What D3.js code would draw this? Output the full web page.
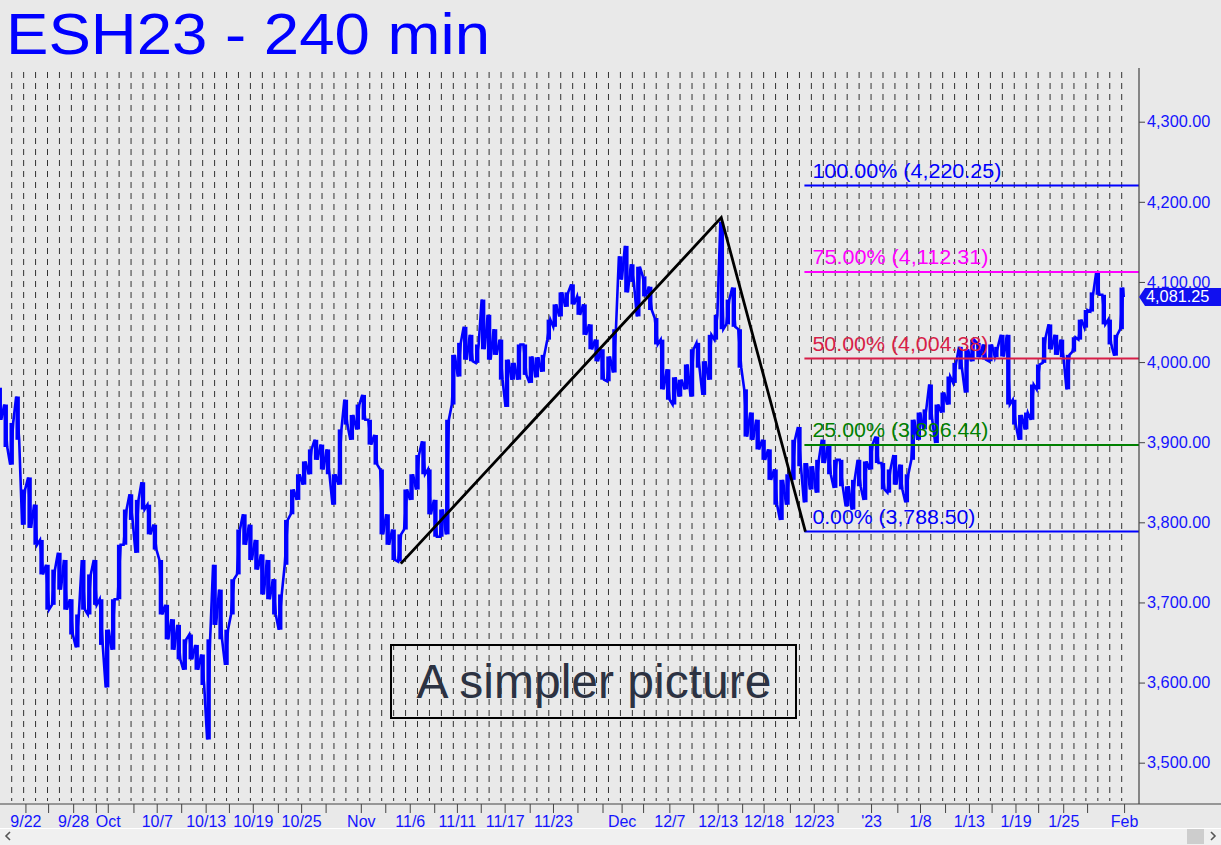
<!DOCTYPE html>
<html>
<head>
<meta charset="utf-8">
<script src="https://cdn.jsdelivr.net/npm/d3@7"></script>
<style>
  body { margin: 0; background: #e9e9e9; }
  svg { display: block; font-family: Arial, "Liberation Sans", sans-serif; }
</style>
</head>
<body>
<script>
// price axis ticks
const priceTicks = [3500, 3600, 3700, 3800, 3900, 4000, 4100, 4200, 4300];

// date axis: one trading day per gridline
const dateLabels = ["9/22", "9/28", "Oct", "10/7", "10/13", "10/19", "10/25", "Nov", "11/6", "11/11", "11/17", "11/23",
                    "Dec", "12/7", "12/13", "12/18", "12/23", "'23", "1/8", "1/13", "1/19", "1/25", "Feb"];
const dateLabelDays = [1.15, 5.15, 8.05, 12.15, 16.25, 20.2, 24.25, 29.25, 33.35, 37.3, 41.3, 45.35,
                       51.1, 55.1, 59.15, 63, 67.2, 72, 76.1, 80.2, 84.1, 88.1, 93.2];
const dateMinorDays = [3.05, 7.05, 10.2, 14.2, 18.2, 22.3, 26.3, 31.3, 35.4, 39.3, 43.4, 47.4, 49.5,
                       52.9, 57.1, 61.2, 65.2, 69.2, 74.2, 78.2, 82.1, 86, 90.1];
const dayCount = 94;

// 240 min bars, sampled every half day starting at day -1
const barHigh = [
  3968, 3947, 3924, 3957, 3841, 3856, 3822, 3778, 3747, 3741, 3762, 3753, 3704, 3685, 3753, 3735, 3753, 3704, 3666, 3704,
  3772, 3816, 3835, 3828, 3850, 3822, 3797, 3753, 3697, 3679, 3672, 3654, 3660, 3647, 3635, 3654, 3747, 3716, 3666, 3729,
  3791, 3810, 3797, 3778, 3760, 3753, 3729, 3710, 3803, 3841, 3860, 3876, 3891, 3903, 3897, 3891, 3860, 3916, 3953, 3934,
  3947, 3959, 3928, 3909, 3866, 3810, 3791, 3785, 3841, 3860, 3884, 3901, 3866, 3828, 3816, 3928, 4009, 4024, 4044, 4034,
  4022, 4078, 4059, 4041, 4028, 4003, 3999, 4022, 4022, 4007, 4006, 4009, 4053, 4072, 4087, 4087, 4097, 4082, 4072, 4047,
  4028, 4016, 4007, 4041, 4132, 4145, 4122, 4119, 4107, 4094, 4055, 4028, 3991, 3981, 3978, 3997, 4016, 4024, 4001, 4034,
  4059, 4175, 4078, 4093, 4041, 3966, 3937, 3928, 3903, 3891, 3866, 3853, 3860, 3903, 3919, 3874, 3870, 3878, 3903, 3897,
  3878, 3878, 3845, 3853, 3878, 3876, 3897, 3907, 3874, 3866, 3884, 3872, 3860, 3928, 3937, 3941, 3972, 3947, 3962, 3982,
  3999, 4019, 4016, 4028, 4024, 4022, 4022, 4019, 4034, 4034, 3953, 3934, 3937, 3972, 3997, 4031, 4047, 4034, 4028, 4009,
  4031, 4053, 4065, 4087, 4113, 4084, 4053, 4034, 4093
];
const barLow = [
  3928, 3894, 3872, 3903, 3797, 3793, 3772, 3735, 3691, 3697, 3716, 3691, 3660, 3644, 3691, 3685, 3697, 3647, 3594, 3641,
  3704, 3772, 3803, 3762, 3816, 3785, 3766, 3685, 3654, 3641, 3629, 3616, 3629, 3616, 3597, 3529, 3672, 3654, 3622, 3685,
  3735, 3772, 3753, 3741, 3710, 3704, 3685, 3666, 3747, 3810, 3828, 3847, 3860, 3878, 3866, 3860, 3822, 3847, 3922, 3903,
  3916, 3928, 3897, 3872, 3785, 3772, 3753, 3751, 3791, 3828, 3841, 3860, 3810, 3782, 3782, 3785, 3947, 3982, 4003, 4001,
  3999, 4016, 4003, 4009, 3978, 3944, 3978, 3978, 3984, 3974, 3981, 3988, 4028, 4044, 4057, 4069, 4072, 4059, 4034, 4016,
  4001, 3978, 3976, 3987, 4103, 4087, 4100, 4057, 4082, 4065, 4022, 3966, 3953, 3947, 3957, 3966, 3957, 3993, 3959, 3978,
  4028, 4041, 4047, 4044, 3993, 3907, 3903, 3891, 3878, 3853, 3822, 3803, 3822, 3853, 3870, 3825, 3841, 3837, 3874, 3860,
  3843, 3845, 3820, 3816, 3845, 3828, 3866, 3874, 3841, 3837, 3847, 3841, 3825, 3878, 3903, 3916, 3928, 3899, 3937, 3947,
  3974, 3991, 3962, 4001, 4006, 4003, 4001, 4006, 4007, 3947, 3922, 3903, 3916, 3928, 3966, 3999, 4016, 4009, 4006, 3966,
  4013, 4028, 4043, 4063, 4084, 4047, 4022, 4008, 4041
];
const barStart = -1;
const barStep = 0.5;
const lastPrice = 4081.25;

// swing drawn by hand on the chart (A, B, C)
const pivotDays = [32.6, 59.45, 66.5];
const pivotPrices = [3748.5, 4180.25, 3788.5];

// projection levels from C
const fibNames = ["100.00%", "75.00%", "50.00%", "25.00%", "0.00%"];
const fibPrices = [4220.25, 4112.31, 4004.38, 3896.44, 3788.50];
const fibColors = ["#0000ff", "#ff00ff", "#d81e48", "#008000", "#0000ff"];
const fibLabelWidths = [189, 176, 176, 176, 163];

const W = 1221, H = 845;
const axisX = 1139, axisY = 804, plotTop = 72;
const blue = "#1414ff";

const svg = d3.select("body").append("svg")
    .attr("width", W)
    .attr("height", H);

svg.append("rect").attr("width", W).attr("height", H).attr("fill", "#e9e9e9");

const x = d3.scaleLinear().domain([0, dayCount - 1]).range([11.7, 1121.7]);
const y = d3.scaleLinear().domain([3500, 4300]).range([762.7, 121.7]);

// vertical day gridlines
const days = d3.range(dayCount);
svg.append("g").selectAll("line").data(days).enter().append("line")
    .attr("x1", d => x(d)).attr("x2", d => x(d))
    .attr("y1", plotTop).attr("y2", 801)
    .attr("stroke", "#333")
    .attr("stroke-width", 1)
    .attr("stroke-dasharray", "6,5");

// title
svg.append("text")
    .attr("x", 6).attr("y", 54)
    .attr("font-size", 58)
    .attr("fill", "#0000ff")
    .attr("textLength", 484)
    .attr("lengthAdjust", "spacingAndGlyphs")
    .text("ESH23 - 240 min");

// price series
const n = barHigh.length;
const bars = barHigh.map((h, i) => ({day: barStart + i * barStep, hi: h, lo: barLow[i]}));
const pts = [];
bars.forEach((b, i) => {
    const mid = (b.hi + b.lo) / 2;
    const next = i < n - 1 ? (bars[i + 1].hi + bars[i + 1].lo) / 2 : lastPrice;
    const cx = x(b.day);
    if (next > mid) {
        pts.push([cx - 1.5, y(b.lo)], [cx + 1.5, y(b.hi)]);
    } else {
        pts.push([cx - 1.5, y(b.hi)], [cx + 1.5, y(b.lo)]);
    }
});
pts.push([x(barStart + (n - 1) * barStep) + 2, y(lastPrice)]);

svg.append("g").selectAll("rect").data(bars).enter().append("rect")
    .attr("x", d => x(d.day) - 2.2)
    .attr("width", 4.4)
    .attr("y", d => y(d.hi))
    .attr("height", d => y(d.lo) - y(d.hi))
    .attr("fill", "#0000ff");

svg.append("path")
    .attr("d", d3.line()(pts))
    .attr("fill", "none")
    .attr("stroke", "#0000ff")
    .attr("stroke-width", 2.6)
    .attr("stroke-linejoin", "miter");

// fib levels
const fibX0 = x(pivotDays[2]);
const fibs = fibPrices.map((p, i) => ({p, name: fibNames[i], color: fibColors[i], w: fibLabelWidths[i]}));
const fg = svg.append("g");
fg.selectAll("line").data(fibs).enter().append("line")
    .attr("x1", fibX0 - 1).attr("x2", axisX)
    .attr("y1", d => y(d.p)).attr("y2", d => y(d.p))
    .attr("stroke", d => d.color)
    .attr("stroke-width", 2);
fg.selectAll("text").data(fibs).enter().append("text")
    .attr("x", fibX0 + 7)
    .attr("y", d => y(d.p) - 8)
    .attr("font-size", 19.5)
    .attr("fill", d => d.color)
    .attr("textLength", d => d.w)
    .attr("lengthAdjust", "spacingAndGlyphs")
    .text(d => d.name + " (" + d3.format(",.2f")(d.p) + ")");

// A-B-C swing
svg.append("path")
    .attr("d", d3.line().x(d => x(d[0])).y(d => y(d[1]))(pivotDays.map((d, i) => [d, pivotPrices[i]])))
    .attr("fill", "none")
    .attr("stroke", "#000")
    .attr("stroke-width", 2.8);

// note box
svg.append("rect")
    .attr("x", 391).attr("y", 645)
    .attr("width", 405).attr("height", 73)
    .attr("fill", "none")
    .attr("stroke", "#000")
    .attr("stroke-width", 2);
svg.append("text")
    .attr("x", 594).attr("y", 698)
    .attr("text-anchor", "middle")
    .attr("font-size", 48)
    .attr("fill", "#2c3242")
    .text("A simpler picture");

// right price axis
const yAxis = d3.axisRight(y)
    .tickValues(priceTicks)
    .tickSize(6)
    .tickPadding(2)
    .tickFormat(d3.format(",.2f"));
const ya = svg.append("g").attr("transform", `translate(${axisX},0)`).call(yAxis);
ya.select(".domain").remove();
ya.selectAll(".tick line").attr("stroke", "#444");
ya.selectAll(".tick text")
    .attr("fill", blue)
    .attr("font-size", 16.3)
    .attr("font-family", "Arial, 'Liberation Sans', sans-serif");
svg.append("line")
    .attr("x1", axisX).attr("x2", axisX)
    .attr("y1", 68).attr("y2", axisY)
    .attr("stroke", "#444").attr("stroke-width", 1.2);

// last price tag
const ly = y(lastPrice);
svg.append("path")
    .attr("d", `M${axisX},${ly} L${axisX + 6},${ly - 9} L${W},${ly - 9} L${W},${ly + 9} L${axisX + 6},${ly + 9} Z`)
    .attr("fill", "#1010f0");
svg.append("text")
    .attr("x", axisX + 7).attr("y", ly + 5.5)
    .attr("font-size", 16.3)
    .attr("fill", "#fff")
    .text(d3.format(",.2f")(lastPrice));

// bottom date axis
const xAxis = d3.axisBottom(x)
    .tickValues(dateLabelDays.concat(dateMinorDays))
    .tickSize(9)
    .tickPadding(3)
    .tickFormat(d => {
        const k = dateLabelDays.indexOf(d);
        return k >= 0 ? dateLabels[k] : "";
    });
const xa = svg.append("g").attr("transform", `translate(0,${axisY})`).call(xAxis);
xa.select(".domain").remove();
xa.selectAll(".tick line").attr("stroke", "#444");
xa.selectAll(".tick text")
    .attr("fill", blue)
    .attr("font-size", 16)
    .attr("font-family", "Arial, 'Liberation Sans', sans-serif");
svg.append("line")
    .attr("x1", 0).attr("x2", W)
    .attr("y1", axisY).attr("y2", axisY)
    .attr("stroke", "#444").attr("stroke-width", 1.2);

// scrollbar strip
svg.append("rect").attr("x", 0).attr("y", 828).attr("width", W).attr("height", 17).attr("fill", "#f0f0f0");
svg.append("line").attr("x1", 0).attr("x2", W).attr("y1", 828.5).attr("y2", 828.5).attr("stroke", "#fff");
svg.append("rect").attr("x", 1187).attr("y", 829).attr("width", 17).attr("height", 15).attr("fill", "#cdcdcd");
svg.append("path").attr("d", "M10,832 L6,836 L10,840").attr("fill", "none").attr("stroke", "#555").attr("stroke-width", 1.6);
svg.append("path").attr("d", "M1211,832 L1215,836 L1211,840").attr("fill", "none").attr("stroke", "#555").attr("stroke-width", 1.6);
</script>
</body>
</html>
